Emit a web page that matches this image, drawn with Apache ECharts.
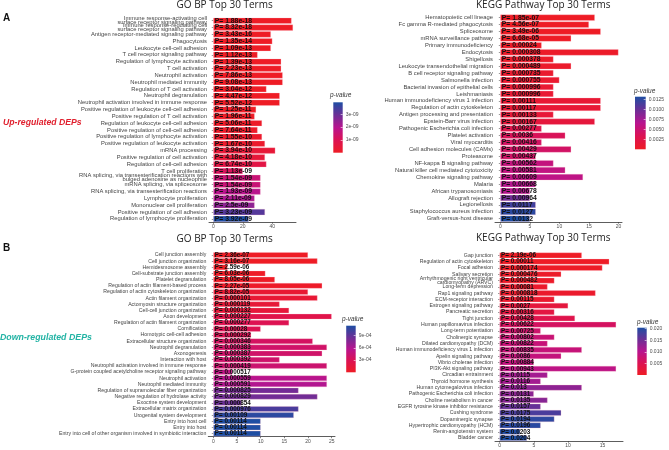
<!DOCTYPE html>
<html>
<head>
<meta charset="utf-8">
<style>html,body{margin:0;padding:0;background:#fff}#c{width:669px;height:450px}</style>
<script src="https://cdn.jsdelivr.net/npm/echarts@6/dist/echarts.min.js"></script>
</head>
<body>
<div id="c"></div>
<script>
const upGoTerms = ["Immune response-activating cell\nsurface receptor signaling pathway","Immune response-regulating cell\nsurface receptor signaling pathway","Antigen receptor-mediated signaling pathway","Phagocytosis","Leukocyte cell-cell adhesion","T cell receptor signaling pathway","Regulation of lymphocyte activation","T cell activation","Neutrophil activation","Neutrophil mediated immunity","Regulation of T cell activation","Neutrophil degranulation","Neutrophil activation involved in immune response","Positive regulation of leukocyte cell-cell adhesion","Positive regulation of T cell activation","Regulation of leukocyte cell-cell adhesion","Positive regulation of cell-cell adhesion","Positive regulation of lymphocyte activation","Positive regulation of leukocyte activation","mRNA processing","Positive regulation of cell activation","Regulation of cell-cell adhesion","T cell proliferation","RNA splicing, via transesterification reactions with\nbulged adenosine as nucleophile","mRNA splicing, via spliceosome","RNA splicing, via transesterification reactions","Lymphocyte proliferation","Mononuclear cell proliferation","Positive regulation of cell adhesion","Regulation of lymphocyte proliferation"];
const upGoCounts = [53,54,39,40,39,30,46,46,47,47,36,45,45,29,28,33,30,33,35,42,35,36,20,32,32,32,28,28,35,24];
const upGoP = ["1.88e-18","8.32e-18","3.43e-16","1.35e-14","1.09e-13","1.12e-13","1.39e-13","2.23e-13","7.86e-13","9.08e-13","3.04e-12","4.47e-12","5.52e-12","1.25e-11","1.96e-11","5.06e-11","7.64e-11","1.55e-10","1.67e-10","3.94e-10","4.18e-10","6.74e-10","1.13e-09","1.54e-09","1.54e-09","1.93e-09","2.11e-09","2.5e-09","3.23e-09","3.92e-09"];
const upGoTicks = [0,20,40];
const upGoLegend = [1e-9,2e-9,3e-9];

const upKeggTerms = ["Hematopoietic cell lineage","Fc gamma R-mediated phagocytosis","Spliceosome","mRNA surveillance pathway","Primary immunodeficiency","Endocytosis","Shigellosis","Leukocyte transendothelial migration","B cell receptor signaling pathway","Salmonella infection","Bacterial invasion of epithelial cells","Leishmaniasis","Human immunodeficiency virus 1 infection","Regulation of actin cytoskeleton","Antigen processing and presentation","Epstein-Barr virus infection","Pathogenic Escherichia coli infection","Platelet activation","Viral myocarditis","Cell adhesion molecules (CAMs)","Proteasome","NF-kappa B signaling pathway","Natural killer cell mediated cytotoxicity","Chemokine signaling pathway","Malaria","African trypanosomiasis","Allograft rejection","Legionellosis","Staphylococcus aureus infection","Graft-versus-host disease"];
const upKeggCounts = [16,15,17,12,7,20,9,12,9,10,9,9,17,17,9,16,7,11,7,12,6,9,11,14,6,5,5,6,6,5];
const upKeggP = ["1.85e-07","4.56e-07","3.49e-06","6.68e-05","0.00024","0.000308","0.000378","0.000489","0.000735","0.000755","0.000996","0.000996","0.00111","0.00117","0.00133","0.00167","0.00277","0.0036","0.00416","0.00429","0.00437","0.00562","0.00581","0.00609","0.00668","0.00678","0.00964","0.0117","0.0127","0.0132"];
const upKeggTicks = [0,5,10,15,20];
const upKeggLegend = [0.0025,0.005,0.0075,0.01,0.0125];

const downGoTerms = ["Cell junction assembly","Cell junction organization","Hemidesmosome assembly","Cell-substrate junction assembly","Platelet degranulation","Regulation of actin filament-based process","Regulation of actin cytoskeleton organization","Actin filament organization","Actomyosin structure organization","Cell-cell junction organization","Axon development","Regulation of actin filament organization","Cornification","Homotypic cell-cell adhesion","Extracellular structure organization","Neutrophil degranulation","Axonogenesis","Interaction with host","Neutrophil activation involved in immune response","G-protein coupled acetylcholine receptor signaling pathway","Neutrophil activation","Neutrophil mediated immunity","Regulation of supramolecular fiber organization","Negative regulation of hydrolase activity","Exocrine system development","Extracellular matrix organization","Urogenital system development","Entry into host cell","Entry into host","Entry into cell of other organism involved in symbiotic interaction"];
const downGoCounts = [20,22,3,11,13,23,20,22,14,16,25,16,10,8,21,24,23,14,24,4,24,24,18,22,6,18,17,10,10,10];
const downGoP = ["2.36e-07","3.16e-07","2.59e-06","6.03e-06","8.05e-06","2.27e-05","8.82e-05","0.000101","0.000119","0.000132","0.000227","0.000277","0.00028","0.000292","0.000346","0.000383","0.000387","0.000392","0.000419","0.000517","0.000559","0.000591","0.000825","0.000829","0.000854","0.000976","0.00109","0.00114","0.00114","0.00114"];
const downGoTicks = [0,5,10,15,20,25];
const downGoLegend = [3e-4,6e-4,9e-4];

const downKeggTerms = ["Gap junction","Regulation of actin cytoskeleton","Focal adhesion","Salivary secretion","Arrhythmogenic right ventricular\ncardiomyopathy (ARVC)","Long-term depression","Rap1 signaling pathway","ECM-receptor interaction","Estrogen signaling pathway","Pancreatic secretion","Tight junction","Human papillomavirus infection","Long-term potentiation","Cholinergic synapse","Dilated cardiomyopathy (DCM)","Human immunodeficiency virus 1 infection","Apelin signaling pathway","Vibrio cholerae infection","PI3K-Akt signaling pathway","Circadian entrainment","Thyroid hormone synthesis","Human cytomegalovirus infection","Pathogenic Escherichia coli infection","Choline metabolism in cancer","EGFR tyrosine kinase inhibitor resistance","Cushing syndrome","Dopaminergic synapse","Hypertrophic cardiomyopathy (HCM)","Renin-angiotensin system","Bladder cancer"];
const downKeggCounts = [12,16,15,9,8,7,14,8,10,8,11,17,6,8,7,12,9,5,17,7,6,12,5,7,6,9,8,6,3,4];
const downKeggP = ["2.19e-06","0.00011","0.000174","0.000476","0.000482","0.00081","0.000818","0.00115","0.0027","0.00316","0.00428","0.00622","0.00725","0.00802","0.00822","0.00835","0.0086","0.00884","0.00943","0.0115","0.0116","0.013","0.0131","0.0135","0.0157","0.0175","0.0194","0.0196","0.0203","0.0204"];
const downKeggTicks = [0,5,10,15];
const downKeggLegend = [0.005,0.01,0.015,0.02];

const FONT = '"Liberation Sans", Arial, sans-serif';
const RAMP = ['#ee1c25','#dc1253','#b8148f','#6b2f96','#1e4ea3'];

const panels = [
  {terms:upGoTerms,counts:upGoCounts,p:upGoP,ticks:upGoTicks,legend:upGoLegend,fmt:v=>v.toExponential(0).replace('e-','e-0'),
   l:209,r:296,t:17.3,h:205,min:-2.9,max:56,fs:5.8,ps:6.8,
   lx:333.3,lw:9.4,lt:102.3,lh:50.4},
  {terms:upKeggTerms,counts:upKeggCounts,p:upKeggP,ticks:upKeggTicks,legend:upKeggLegend,fmt:v=>v.toFixed(4),
   l:495,r:622,t:14.2,h:208,min:-0.9,max:20.6,fs:5.8,ps:6.8,
   lx:635,lw:10.7,lt:96.7,lh:52.6},
  {terms:downGoTerms,counts:downGoCounts,p:downGoP,ticks:downGoTicks,legend:downGoLegend,fmt:v=>v.toExponential(0).replace('e-','e-0'),
   l:208.3,r:335,t:251.9,h:184.8,min:-1.06,max:25.7,fs:5.2,ps:6.3,
   lx:346.2,lw:9.5,lt:325.7,lh:46.6},
  {terms:downKeggTerms,counts:downKeggCounts,p:downKeggP,ticks:downKeggTicks,legend:downKeggLegend,fmt:v=>v.toFixed(3),
   l:495,r:623,t:252.2,h:189,min:-0.66,max:18,fs:5.2,ps:6.4,
   lx:637.3,lw:9.4,lt:327.7,lh:47.3}
];

const grid=[],xAxis=[],yAxis=[],series=[],visualMap=[];
panels.forEach((P,i)=>{
  const maxP = Math.max(...P.p.map(Number));
  grid.push({left:P.l,top:P.t,width:P.r-P.l,height:P.h,containLabel:false});
  xAxis.push({gridIndex:i,type:'value',min:P.min,max:P.max,splitLine:{show:false},
    axisLine:{show:true,onZero:false,lineStyle:{color:'#333',width:0.8}},
    axisTick:{show:true,length:1.5,customValues:P.ticks,lineStyle:{color:'#333',width:0.6}},
    axisLabel:{customValues:P.ticks,fontSize:5,color:'#4d4d4d',margin:2,fontFamily:FONT}});
  yAxis.push({gridIndex:i,type:'category',inverse:true,data:P.terms,
    axisLine:{show:false},
    axisTick:{show:true,length:1.5,alignWithLabel:true,lineStyle:{color:'#555',width:0.6}},
    axisLabel:{interval:0,fontSize:P.fs,lineHeight:4,color:'#444',margin:2,fontFamily:FONT,align:'right'}});
  series.push({type:'bar',xAxisIndex:i,yAxisIndex:i,silent:true,barWidth:'90%',
    encode:{x:0,y:1},
    data:P.counts.map((c,k)=>[c,k,Number(P.p[k]),P.p[k]]),
    itemStyle:{borderColor:'rgba(255,190,205,0.55)',borderWidth:0.5},
    label:{show:true,position:'insideLeft',distance:1.5,fontSize:P.ps,fontWeight:'bold',fontFamily:FONT,color:'#111',
      formatter:o=>'P= '+o.value[3]}});
  visualMap.push({type:'continuous',show:false,seriesIndex:i,dimension:2,min:0,max:maxP,inRange:{color:RAMP}});
});
panels.forEach((P,i)=>{
  const maxP = Math.max(...P.p.map(Number));
  const g = panels.length+i;
  grid.push({left:P.lx,top:P.lt,width:P.lw,height:P.lh});
  xAxis.push({gridIndex:g,type:'category',show:false,data:['p-value']});
  yAxis.push({gridIndex:g,type:'value',position:'right',min:0,max:maxP,z:10,
    splitLine:{show:false},axisLine:{show:false},
    axisTick:{show:true,inside:true,length:2,customValues:P.legend,lineStyle:{color:'#fff',width:0.6}},
    axisLabel:{customValues:P.legend,fontSize:5,color:'#4d4d4d',margin:3,fontFamily:FONT,formatter:v=>P.fmt(v)}});
  series.push({type:'bar',xAxisIndex:g,yAxisIndex:g,silent:true,barWidth:'100%',data:[maxP],
    itemStyle:{color:new echarts.graphic.LinearGradient(0,1,0,0,
      RAMP.map((c,k)=>({offset:k/(RAMP.length-1),color:c})))}});
});

const titleStyle = {fontFamily:'"Open Sans", sans-serif',fontSize:10,fontWeight:'normal',color:'#222'};
const pvStyle = {fontFamily:FONT,fontSize:6.5,fontWeight:'normal',color:'#333',fontStyle:'italic'};
const title = [
  {text:'GO BP Top 30 Terms',left:176.5,top:0,padding:0,textStyle:titleStyle},
  {text:'KEGG Pathway Top 30 Terms',left:476,top:0,padding:0,textStyle:titleStyle},
  {text:'GO BP Top 30 Terms',left:176.5,top:234.5,padding:0,textStyle:titleStyle},
  {text:'KEGG Pathway Top 30 Terms',left:476,top:233.5,padding:0,textStyle:titleStyle},
  {text:'A',left:3,top:13,padding:0,textStyle:{fontFamily:FONT,fontSize:10,fontWeight:'bold',color:'#111'}},
  {text:'B',left:3,top:243,padding:0,textStyle:{fontFamily:FONT,fontSize:10,fontWeight:'bold',color:'#111'}},
  {text:'Up-regulated DEPs',left:3,top:118,padding:0,textStyle:{fontFamily:FONT,fontSize:8.7,fontWeight:'bold',fontStyle:'italic',color:'#e01f2d'}},
  {text:'Down-regulated DEPs',left:0,top:333,padding:0,textStyle:{fontFamily:FONT,fontSize:8.8,fontWeight:'bold',fontStyle:'italic',color:'#22b3a4'}},
  {text:'p-value',left:330,top:92,padding:0,textStyle:pvStyle},
  {text:'p-value',left:634,top:87.5,padding:0,textStyle:pvStyle},
  {text:'p-value',left:342,top:316,padding:0,textStyle:pvStyle},
  {text:'p-value',left:637,top:318.5,padding:0,textStyle:pvStyle}
];

const chart = echarts.init(document.getElementById('c'),null,{renderer:'canvas',width:669,height:450});
chart.setOption({animation:false,backgroundColor:'#fff',title,grid,xAxis,yAxis,series,visualMap});
</script>
</body>
</html>
